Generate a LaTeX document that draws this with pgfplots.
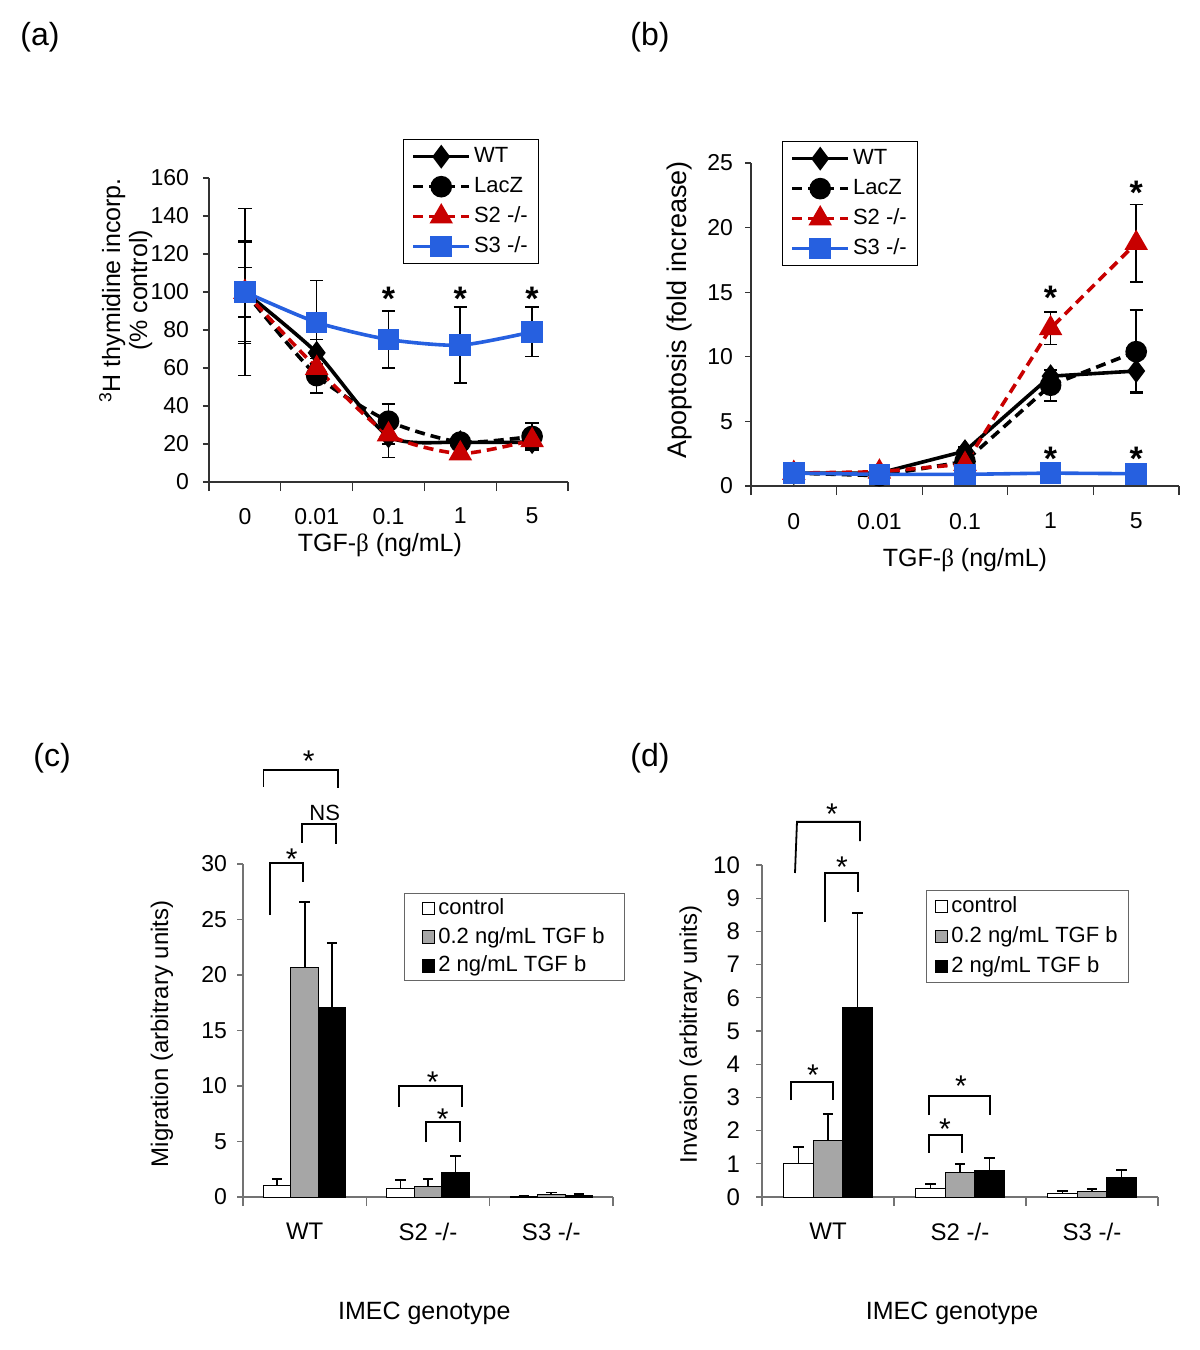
\documentclass[border=0pt]{standalone}
\usepackage{fontspec}
\setmainfont{Liberation Sans}
\newfontfamily\serifgreek{Liberation Serif}
\usepackage{pgfplots}
\pgfplotsset{compat=1.18}
\definecolor{myblue}{RGB}{38,96,224}
\definecolor{myred}{RGB}{200,0,0}
\definecolor{bargray}{RGB}{166,166,166}
\tikzset{
  starA/.style={font=\bfseries\fontsize{17}{17}\selectfont, anchor=base, yshift=-9.9pt, inner sep=0pt},
  starC/.style={font=\fontsize{15}{15}\selectfont, anchor=base, yshift=-8.7pt, inner sep=0pt},
  brk/.style={black, line width=0.9pt},
  plabel/.style={font=\fontsize{16}{16}\selectfont, anchor=center, inner sep=0pt},
}
\pgfplotsset{
  base/.style={
    scale only axis, clip=false,
    axis x line=bottom, axis y line=left,
    axis line style={-, black!80, line width=0.6pt},
    tick align=outside,
    tick style={black!80, line width=0.6pt},
    major tick length=3pt, minor tick length=4.5pt,
    major x tick style={draw=none},
    ymin=0,
    /pgf/number format/assume math mode=true,
    legend cell align=left,
  },
  lineleg/.style={legend image code/.code={\draw[mark repeat=2,mark phase=2,##1] plot coordinates {(0pt,0pt) (14pt,0pt) (28pt,0pt)};}},
  sqleg/.style={legend image code/.code={\draw[##1] (0pt,-3.2pt) rectangle (6.4pt,3.2pt);}},
  ebar/.style={error bars/.cd, y dir=both, y explicit, error bar style={black, line width=0.8pt, solid}, error mark options={rotate=90, black, mark size=3.3pt, line width=0.8pt, solid}},
  bbar/.style={error bars/.cd, y dir=plus, y explicit, error bar style={black, line width=0.9pt, solid}, error mark options={rotate=90, black, mark size=2.6pt, line width=0.9pt, solid}},
  dashy/.style={dash pattern=on 5pt off 3pt},
}
\begin{document}
\begin{tikzpicture}
\path[use as bounding box] (0pt,0pt) rectangle (600pt,-675pt);

% ---------------- (a)
\begin{axis}[base,
  at={(104.5pt,-241pt)}, anchor=south west,
  width=179.5pt, height=152pt,
  xmin=-0.5, xmax=4.5, ymax=160,
  xtick={0,1,2,3,4}, xticklabels={0,0.01,0.1,1,5},
  minor xtick={-0.5,0.5,1.5,2.5,3.5,4.5},
  ytick={0,20,...,160},
  tick label style={font=\fontsize{11.5}{13}\selectfont},
  yticklabel style={xshift=-3.5pt},
  xticklabel style={yshift=-6.5pt},
  xlabel={TGF-{\serifgreek β} (ng/mL)},
  xlabel style={font=\fontsize{12.5}{15}\selectfont, at={(axis description cs:0.476,-0.207)}, anchor=center},
  ylabel={\textsuperscript{3}H thymidine incorp.\\(\% control)},
  ylabel style={font=\fontsize{12.5}{13.5}\selectfont, align=center, at={(axis description cs:-0.232,0.63)}, anchor=center},
  lineleg,
  legend style={at={(0.54,1.128)}, anchor=north west, draw=black, line width=0.6pt, font=\fontsize{11}{13}\selectfont, nodes={inner sep=1.5pt, text height=8pt, text depth=2pt}, row sep=2pt, inner xsep=4pt, inner ysep=2pt},
]
\addplot[black, line width=1.8pt, smooth, tension=0.4, mark=diamond*, mark size=4.5pt, mark options={solid}, ebar]
  coordinates {(0,100)+-(0,26) (1,68)+-(0,7) (2,24)+-(0,11) (3,21)+-(0,2) (4,21)+-(0,3)};
\addlegendentry{WT}
\addplot[black, line width=1.8pt, dashy, smooth, tension=0.4, mark=*, mark size=4.5pt, mark options={solid}, ebar]
  coordinates {(0,100)+-(0,13) (1,56)+-(0,9) (2,32)+-(0,9) (3,21)+-(0,2) (4,24)+-(0,7)};
\addlegendentry{LacZ}
\addplot[myred, line width=1.8pt, dashy, smooth, tension=0.4, mark=triangle*, mark size=5pt, mark options={solid}, ebar]
  coordinates {(0,100)+-(0,27) (1,60)+-(0,6) (2,25)+-(0,5) (3,15)+-(0,2) (4,22)+-(0,3)};
\addlegendentry{S2 -/-}
\addplot[myblue, line width=1.8pt, smooth, tension=0.4, mark=square*, mark size=4.5pt, mark options={solid}, ebar]
  coordinates {(0,100)+-(0,44) (1,84)+-(0,22) (2,75)+-(0,15) (3,72)+-(0,20) (4,79)+-(0,13)};
\addlegendentry{S3 -/-}
\node[starA] at (axis cs:2,100.5) {*};
\node[starA] at (axis cs:3,100.5) {*};
\node[starA] at (axis cs:4,100.5) {*};
\end{axis}

% ---------------- (b)
\begin{axis}[base,
  at={(375.5pt,-243pt)}, anchor=south west,
  width=214pt, height=161.5pt,
  xmin=-0.5, xmax=4.5, ymax=25,
  xtick={0,1,2,3,4}, xticklabels={0,0.01,0.1,1,5},
  minor xtick={-0.5,0.5,1.5,2.5,3.5,4.5},
  ytick={0,5,...,25},
  tick label style={font=\fontsize{11.5}{13}\selectfont},
  yticklabel style={xshift=-2.5pt},
  xticklabel style={yshift=-7pt},
  xlabel={TGF-{\serifgreek β} (ng/mL)},
  xlabel style={font=\fontsize{12.5}{15}\selectfont, at={(axis description cs:0.5,-0.229)}, anchor=center},
  ylabel={Apoptosis (fold increase)},
  ylabel style={font=\fontsize{13.5}{15}\selectfont, at={(axis description cs:-0.166,0.545)}, anchor=center},
  lineleg,
  legend style={at={(0.072,1.068)}, anchor=north west, draw=black, line width=0.6pt, font=\fontsize{11}{13}\selectfont, nodes={inner sep=1.5pt, text height=8pt, text depth=2pt}, row sep=2pt, inner xsep=4pt, inner ysep=2pt},
]
\addplot[black, line width=1.8pt, mark=diamond*, mark size=4.5pt, mark options={solid}, ebar]
  coordinates {(0,1)+-(0,0.2) (1,1)+-(0,0.2) (2,2.7)+-(0,0.3) (3,8.5)+-(0,0.5) (4,8.9)+-(0,1.6)};
\addlegendentry{WT}
\addplot[black, line width=1.8pt, dashy, mark=*, mark size=4.5pt, mark options={solid}, ebar]
  coordinates {(0,1)+-(0,0.2) (1,0.8)+-(0,0.3) (2,1.9)+-(0,0.3) (3,7.8)+-(0,1.2) (4,10.4)+-(0,3.2)};
\addlegendentry{LacZ}
\addplot[myred, line width=1.8pt, dashy, mark=triangle*, mark size=5pt, mark options={solid}, ebar]
  coordinates {(0,1)+-(0,0.2) (1,1.1)+-(0,0.2) (2,1.7)+-(0,0.2) (3,12.2)+-(0,1.25) (4,18.8)+-(0,3.0)};
\addlegendentry{S2 -/-}
\addplot[myblue, line width=1.8pt, mark=square*, mark size=4.5pt, mark options={solid}]
  coordinates {(0,1) (1,0.9) (2,0.9) (3,1.0) (4,0.95)};
\addlegendentry{S3 -/-}
\node[starA] at (axis cs:3,15.2) {*};
\node[starA] at (axis cs:4,23.3) {*};
\node[starA] at (axis cs:3,2.7) {*};
\node[starA] at (axis cs:4,2.7) {*};
\end{axis}

% ---------------- (c)
\begin{axis}[base,
  at={(121.5pt,-598.5pt)}, anchor=south west,
  width=185pt, height=166.5pt,
  axis line style={-, black!55, line width=0.6pt},
  tick style={black!55, line width=0.6pt},
  xmin=-0.5, xmax=2.5, ymax=30,
  xtick={0,1,2}, xticklabels={WT,S2 -/-,S3 -/-},
  minor xtick={-0.5,0.5,1.5,2.5},
  ytick={0,5,...,30},
  yticklabel style={font=\fontsize{11.5}{13}\selectfont, xshift=-1.5pt},
  xticklabel style={font=\fontsize{12}{14}\selectfont, yshift=-6.5pt},
  xlabel={IMEC genotype},
  xlabel style={font=\fontsize{12.5}{15}\selectfont, at={(axis description cs:0.49,-0.348)}, anchor=center},
  ylabel={Migration (arbitrary units)},
  ylabel style={font=\fontsize{12}{15}\selectfont, at={(axis description cs:-0.219,0.49)}, anchor=center},
  legend style={at={(0.435,0.913)}, anchor=north west, draw=black!60, line width=0.6pt, font=\fontsize{11}{13}\selectfont, nodes={inner sep=1.5pt, text height=8pt, text depth=2pt}, row sep=1.3pt, inner xsep=8.5pt, inner ysep=1pt},
]
\addplot[ybar, bar width=0.223, bar shift=0, fill=white, draw=black, line width=0.5pt, sqleg, bbar]
  coordinates {(-0.223,1.0)+-(0,0.6) (0.777,0.75)+-(0,0.75) (1.777,0.05)+-(0,0.05)};
\addlegendentry{control}
\addplot[ybar, bar width=0.223, bar shift=0, fill=bargray, draw=black, line width=0.5pt, sqleg, bbar]
  coordinates {(0,20.7)+-(0,5.9) (1,0.95)+-(0,0.65) (2,0.25)+-(0,0.15)};
\addlegendentry{0.2 ng/mL TGF b}
\addplot[ybar, bar width=0.223, bar shift=0, fill=black, draw=black, line width=0.5pt, sqleg, bbar]
  coordinates {(0.223,17.1)+-(0,5.8) (1.223,2.25)+-(0,1.45) (2.223,0.15)+-(0,0.12)};
\addlegendentry{2 ng/mL TGF b}
\draw[brk] (axis cs:-0.333,36.94) -- (axis cs:-0.333,38.47) -- (axis cs:0.268,38.47) -- (axis cs:0.268,36.85);
\node[starC] at (axis cs:0.032,39.9) {*};
\draw[brk] (axis cs:-0.024,31.9) -- (axis cs:-0.024,33.6) -- (axis cs:0.251,33.6) -- (axis cs:0.251,31.8);
\node[font=\fontsize{11}{13}\selectfont, anchor=base, inner sep=0pt] at (axis cs:0.162,33.9) {NS};
\draw[brk] (axis cs:-0.284,25.4) -- (axis cs:-0.284,30.09) -- (axis cs:-0.016,30.09) -- (axis cs:-0.016,28.38);
\node[starC] at (axis cs:-0.105,31.1) {*};
\draw[brk] (axis cs:0.762,8.1) -- (axis cs:0.762,10.0) -- (axis cs:1.273,10.0) -- (axis cs:1.273,8.1);
\node[starC] at (axis cs:1.038,11.0) {*};
\draw[brk] (axis cs:0.981,4.95) -- (axis cs:0.981,6.76) -- (axis cs:1.257,6.76) -- (axis cs:1.257,4.95);
\node[starC] at (axis cs:1.119,7.66) {*};
\end{axis}

% ---------------- (d)
\begin{axis}[base,
  at={(381pt,-598.5pt)}, anchor=south west,
  width=198pt, height=166pt,
  axis line style={-, black!55, line width=0.6pt},
  tick style={black!55, line width=0.6pt},
  xmin=-0.5, xmax=2.5, ymax=10,
  xtick={0,1,2}, xticklabels={WT,S2 -/-,S3 -/-},
  minor xtick={-0.5,0.5,1.5,2.5},
  ytick={0,1,...,10},
  yticklabel style={font=\fontsize{12}{13}\selectfont, xshift=-4.5pt},
  xticklabel style={font=\fontsize{12}{14}\selectfont, yshift=-6.5pt},
  xlabel={IMEC genotype},
  xlabel style={font=\fontsize{12.5}{15}\selectfont, at={(axis description cs:0.48,-0.349)}, anchor=center},
  ylabel={Invasion (arbitrary units)},
  ylabel style={font=\fontsize{12}{15}\selectfont, at={(axis description cs:-0.18,0.49)}, anchor=center},
  legend style={at={(0.414,0.925)}, anchor=north west, draw=black!60, line width=0.6pt, font=\fontsize{11}{13}\selectfont, nodes={inner sep=1.5pt, text height=8pt, text depth=2pt}, row sep=2pt, inner xsep=4pt, inner ysep=1.5pt},
]
\addplot[ybar, bar width=0.223, bar shift=0, fill=white, draw=black, line width=0.5pt, sqleg, bbar]
  coordinates {(-0.223,1.0)+-(0,0.5) (0.777,0.27)+-(0,0.13) (1.777,0.1)+-(0,0.07)};
\addlegendentry{control}
\addplot[ybar, bar width=0.223, bar shift=0, fill=bargray, draw=black, line width=0.5pt, sqleg, bbar]
  coordinates {(0,1.7)+-(0,0.8) (1,0.73)+-(0,0.27) (2,0.17)+-(0,0.08)};
\addlegendentry{0.2 ng/mL TGF b}
\addplot[ybar, bar width=0.223, bar shift=0, fill=black, draw=black, line width=0.5pt, sqleg, bbar]
  coordinates {(0.223,5.7)+-(0,2.85) (1.223,0.8)+-(0,0.38) (2.223,0.6)+-(0,0.22)};
\addlegendentry{2 ng/mL TGF b}
\draw[brk] (axis cs:-0.25,9.76) -- (axis cs:-0.235,11.3) -- (axis cs:0.242,11.3) -- (axis cs:0.242,10.72);
\node[starC] at (axis cs:0.03,11.75) {*};
\draw[brk] (axis cs:-0.023,8.28) -- (axis cs:-0.023,9.76) -- (axis cs:0.227,9.76) -- (axis cs:0.227,9.19);
\node[starC] at (axis cs:0.106,10.15) {*};
\draw[brk] (axis cs:-0.28,2.92) -- (axis cs:-0.28,3.46) -- (axis cs:0.038,3.46) -- (axis cs:0.038,2.92);
\node[starC] at (axis cs:-0.114,3.89) {*};
\draw[brk] (axis cs:0.765,2.47) -- (axis cs:0.765,3.04) -- (axis cs:1.227,3.04) -- (axis cs:1.227,2.47);
\node[starC] at (axis cs:1.008,3.55) {*};
\draw[brk] (axis cs:0.765,1.33) -- (axis cs:0.765,1.87) -- (axis cs:1.015,1.87) -- (axis cs:1.015,1.33);
\node[starC] at (axis cs:0.886,2.26) {*};
\end{axis}

\node[plabel] at (20pt,-18.5pt) {(a)};
\node[plabel] at (325pt,-18.5pt) {(b)};
\node[plabel] at (26pt,-379pt) {(c)};
\node[plabel] at (325pt,-379pt) {(d)};
\end{tikzpicture}
\end{document}
